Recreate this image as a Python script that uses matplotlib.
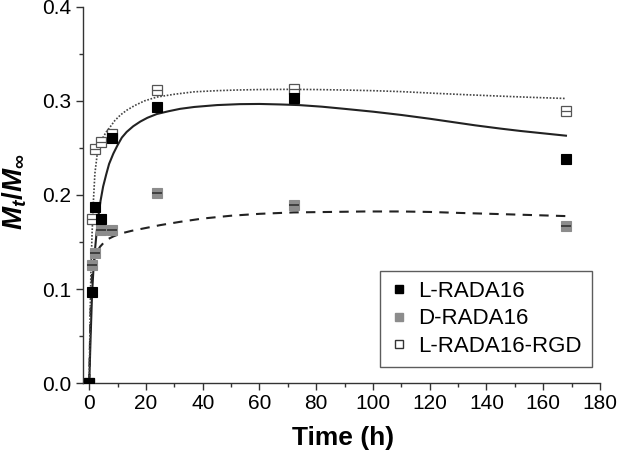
import matplotlib
matplotlib.use("Agg")
import matplotlib.pyplot as plt
from matplotlib.lines import Line2D

plt.rcParams['font.family'] = ['Liberation Sans', 'DejaVu Sans']
plt.rcParams['mathtext.fontset'] = 'custom'
plt.rcParams['mathtext.it'] = 'Liberation Sans:bold:italic'
plt.rcParams['mathtext.rm'] = 'Liberation Sans:bold'

# measured data
time_h = [0, 1, 2, 4, 8, 24, 72, 168]
l_rada16 = [0.0, 0.097, 0.187, 0.175, 0.261, 0.293, 0.303, 0.238]
d_rada16 = [0.0, 0.126, 0.138, 0.163, 0.163, 0.202, 0.189, 0.167]
l_rada16_rgd = [0.0, 0.174, 0.249, 0.256, 0.265, 0.311, 0.313, 0.289]

# fitted curves
fit_l_t = [0, 0.5, 1, 1.5, 2, 2.6, 3.2, 4, 4.9, 6, 7, 8.5, 10, 11.5, 13.2, 15.5, 18, 20.5, 23.8,
           28, 32, 37, 45, 53, 60, 67, 74, 82, 90, 100, 110, 120, 128, 136, 145, 152, 160, 168]
fit_l_y = [0.0, 0.05, 0.095, 0.122, 0.141, 0.160, 0.177, 0.194, 0.209, 0.222, 0.233, 0.244, 0.253,
           0.261, 0.267, 0.273, 0.278, 0.282, 0.286, 0.289, 0.2915, 0.2935, 0.2955, 0.2965, 0.2967,
           0.2962, 0.2955, 0.2938, 0.2915, 0.2885, 0.285, 0.281, 0.2775, 0.274, 0.2705, 0.268,
           0.2655, 0.263]
fit_d_t = [0, 0.5, 1, 1.5, 2, 3, 3.8, 5, 6.5, 8.5, 11, 15, 20, 25, 32, 40, 50, 60, 72, 85, 97,
           110, 120, 130, 145, 156, 168]
fit_d_y = [0.0, 0.08, 0.118, 0.128, 0.134, 0.141, 0.145, 0.149, 0.153, 0.156, 0.159, 0.162, 0.165,
           0.168, 0.1715, 0.175, 0.178, 0.180, 0.1815, 0.182, 0.1825, 0.1825, 0.182, 0.181, 0.1797,
           0.1787, 0.1776]
fit_rgd_t = [0, 0.3, 0.6, 1, 1.5, 2, 2.8, 3.8, 5, 6, 7.3, 9, 11, 13.2, 16, 19.5, 23.8, 30, 37, 45,
             52, 60, 70, 80, 90, 100, 110, 122, 133, 145, 156, 168]
fit_rgd_y = [0.0, 0.07, 0.12, 0.159, 0.195, 0.223, 0.243, 0.255, 0.262, 0.267, 0.272, 0.279, 0.285,
             0.290, 0.295, 0.300, 0.304, 0.307, 0.3096, 0.3108, 0.3115, 0.312, 0.3122, 0.312, 0.3115,
             0.3108, 0.3098, 0.308, 0.3065, 0.305, 0.3037, 0.3025]

legend_labels = ['L-RADA16', 'D-RADA16', 'L-RADA16-RGD']

fig = plt.figure(figsize=(6.18, 4.58), dpi=100)
ax = fig.add_axes([82.7/618, 74.7/458, (600-82.7)/618, (383.3-6.7)/458])

ax.plot(fit_l_t, fit_l_y, '-', color='#222222', lw=1.5, zorder=2)
ax.plot(fit_d_t, fit_d_y, color='#222222', lw=1.5, ls=(0, (4.5, 3.5)), zorder=2)
ax.plot(fit_rgd_t, fit_rgd_y, color='#444444', lw=1.2, ls=(0, (1, 1)), zorder=2)

ms = 6.8
ax.plot(time_h, l_rada16, 's', ms=ms, mfc='black', mec='black', mew=0.8, ls='none', zorder=4)
ax.plot(time_h, d_rada16, 's', ms=ms, mfc='#8c8c8c', mec='#8c8c8c', mew=0.8, ls='none', zorder=3)
ax.plot(time_h, d_rada16, '_', ms=ms, mec='#333333', mew=1.2, ls='none', zorder=3)
ax.plot(time_h, l_rada16_rgd, 's', ms=ms, mfc='white', mec='#555555', mew=0.9, ls='none', zorder=3)
ax.plot(time_h, l_rada16_rgd, '_', ms=ms, mec='#555555', mew=0.9, ls='none', zorder=3)

ax.set_xlim(-2.3, 180)
ax.set_ylim(0, 0.4)
ax.set_xticks(range(0, 181, 20))
ax.set_xticks(range(10, 181, 20), minor=True)
ax.set_yticks([0.0, 0.1, 0.2, 0.3, 0.4])
ax.set_yticks([0.05, 0.15, 0.25, 0.35], minor=True)
ax.set_yticklabels(['0.0', '0.1', '0.2', '0.3', '0.4'])
ax.spines['top'].set_visible(False)
ax.spines['right'].set_visible(False)
for s in ['left', 'bottom']:
    ax.spines[s].set_linewidth(1.0)
    ax.spines[s].set_color('#333333')
ax.tick_params(which='major', length=5, width=1, color='#333333', labelsize=15, pad=3)
ax.tick_params(which='minor', length=3, width=1, color='#333333')

ax.set_xlabel('Time (h)', fontsize=19, fontweight='bold')
ax.xaxis.set_label_coords(0.503, -0.113)
ax.set_ylabel(r'$M_t/M_\infty$', fontsize=20)
ax.yaxis.set_label_coords(-0.104, 0.508)

handles = [
    Line2D([], [], marker='s', ls='none', ms=6, mfc='black', mec='black'),
    Line2D([], [], marker='s', ls='none', ms=6, mfc='#8c8c8c', mec='#8c8c8c'),
    Line2D([], [], marker='s', ls='none', ms=6, mfc='white', mec='#333333'),
]
leg = ax.legend(handles, legend_labels, loc='lower right', bbox_to_anchor=(592/618, (458-367)/458),
                bbox_transform=fig.transFigure, fontsize=16, frameon=True, fancybox=False,
                edgecolor='#333333', handlelength=0.8, handletextpad=0.5, borderpad=0.45,
                labelspacing=0.3, borderaxespad=0)
leg.get_frame().set_linewidth(1.0)

fig.savefig('out.png', dpi=100)
